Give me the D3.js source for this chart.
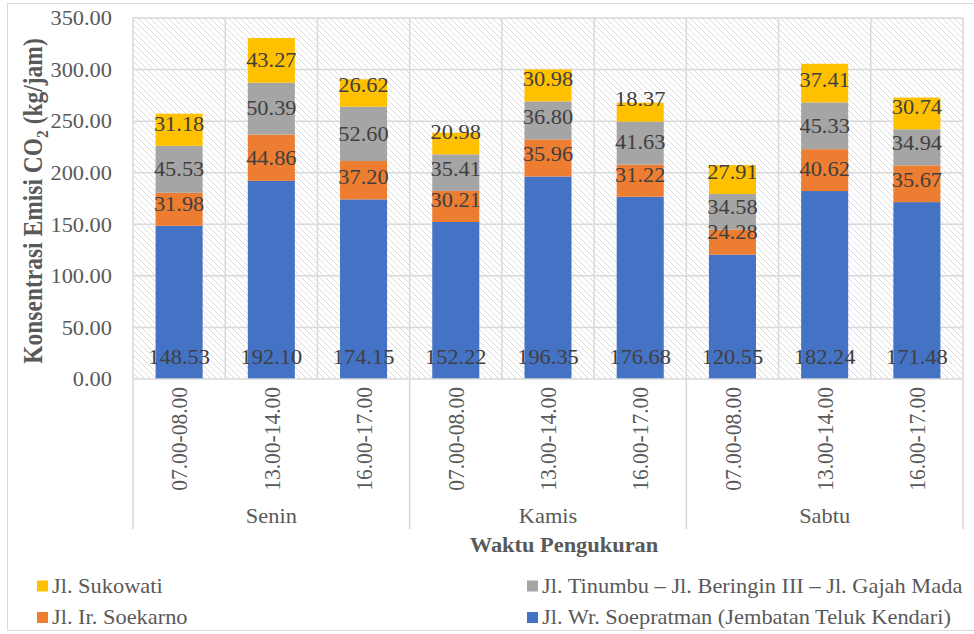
<!DOCTYPE html>
<html>
<head>
<meta charset="utf-8">
<script src="https://cdn.jsdelivr.net/npm/d3@7"></script>
<style>
  html, body { margin: 0; padding: 0; background: #fff; }
  svg { display: block; }
  svg text { font-family: "Liberation Serif", "Tinos", "Times New Roman", "DejaVu Serif", serif; }
</style>
</head>
<body>
<svg id="chart" width="974" height="634"></svg>
<script>
// Measurement days and time windows
const days = ["Senin", "Kamis", "Sabtu"];
const times = ["07.00-08.00", "13.00-14.00", "16.00-17.00"];

// CO2 emission per road segment (kg/jam), one value per day/time slot
const soepratman = [148.53, 192.10, 174.15, 152.22, 196.35, 176.68, 120.55, 182.24, 171.48];
const soekarno   = [31.98, 44.86, 37.20, 30.21, 35.96, 31.22, 24.28, 40.62, 35.67];
const tinumbu    = [45.53, 50.39, 52.60, 35.41, 36.80, 41.63, 34.58, 45.33, 34.94];
const sukowati   = [31.18, 43.27, 26.62, 20.98, 30.98, 18.37, 27.91, 37.41, 30.74];

const seriesNames = [
  "Jl. Wr. Soepratman (Jembatan Teluk Kendari)",
  "Jl. Ir. Soekarno",
  "Jl. Tinumbu – Jl. Beringin III – Jl. Gajah Mada",
  "Jl. Sukowati"
];
const seriesValues = [soepratman, soekarno, tinumbu, sukowati];
const seriesColors = ["#4472C4", "#ED7D31", "#A5A5A5", "#FFC000"];

const yTicks = [0, 50, 100, 150, 200, 250, 300, 350];

// Build category keys and stacking table
const cats = [];
days.forEach(d => times.forEach(t => cats.push(d + "|" + t)));
const table = cats.map((c, i) => {
  const row = { cat: c };
  seriesNames.forEach((s, k) => row[s] = seriesValues[k][i]);
  return row;
});
const stacked = d3.stack().keys(seriesNames)(table);

const svg = d3.select("#chart");
const plot = { left: 133, right: 963, top: 18, bottom: 379 };

const x = d3.scaleBand().domain(cats).range([plot.left, plot.right]).padding(0);
const y = d3.scaleLinear().domain([0, 350]).range([plot.bottom, plot.top]);
const barW = x.step() * 0.51;

const gridColor = "#d9d9d9";
const textGray = "#595959";
const SX = 1.12; // horizontal widening applied to all lettering

// Text placed at (px, py) and widened horizontally in screen space
function addText(parent, px, py, str, opts = {}) {
  const g = parent.append("g")
    .attr("transform", `translate(${px},${py}) scale(${SX},1)`);
  const t = g.append("text")
    .attr("font-size", opts.size || 20)
    .attr("fill", opts.fill || textGray)
    .attr("text-anchor", opts.anchor || "middle")
    .attr("dy", opts.dy || "0.34em");
  if (opts.weight) t.attr("font-weight", opts.weight);
  if (opts.rotate) t.attr("transform", `rotate(${opts.rotate})`);
  if (str !== null) t.text(str);
  return t;
}

// Outer chart frame
svg.append("rect")
  .attr("x", 7.5).attr("y", 3.5).attr("width", 980).attr("height", 627)
  .attr("fill", "#fff").attr("stroke", gridColor).attr("stroke-width", 1);

// Hatched plot background
const defs = svg.append("defs");
const pat = defs.append("pattern")
  .attr("id", "hatch").attr("patternUnits", "userSpaceOnUse")
  .attr("width", 6).attr("height", 6);
pat.append("path")
  .attr("d", "M0,0 L6,6 M-1,5 L1,7 M5,-1 L7,1")
  .attr("stroke", "#d6d6d6").attr("stroke-width", 0.9);
svg.append("rect")
  .attr("x", plot.left).attr("y", plot.top)
  .attr("width", plot.right - plot.left).attr("height", plot.bottom - plot.top)
  .attr("fill", "url(#hatch)");

// Horizontal gridlines
svg.append("g").selectAll("line").data(yTicks.slice(1)).join("line")
  .attr("x1", plot.left).attr("x2", plot.right)
  .attr("y1", d => y(d)).attr("y2", d => y(d))
  .attr("stroke", gridColor).attr("stroke-width", 1.5);

// Vertical gridlines at category boundaries
const bounds = cats.map(c => x(c)).concat([plot.right]);
svg.append("g").selectAll("line").data(bounds).join("line")
  .attr("x1", d => d).attr("x2", d => d)
  .attr("y1", plot.top).attr("y2", plot.bottom)
  .attr("stroke", gridColor).attr("stroke-width", 1.5);

// Stacked bars
const layers = svg.append("g").selectAll("g").data(stacked).join("g")
  .attr("fill", (d, i) => seriesColors[i]);
layers.selectAll("rect").data(d => d).join("rect")
  .attr("x", d => x(d.data.cat) + (x.step() - barW) / 2)
  .attr("width", barW)
  .attr("y", d => y(d[1]))
  .attr("height", d => y(d[0]) - y(d[1]));

// Category axis line
svg.append("line")
  .attr("x1", plot.left).attr("x2", plot.right)
  .attr("y1", plot.bottom).attr("y2", plot.bottom)
  .attr("stroke", gridColor).attr("stroke-width", 1.5);

// Data labels: base series sits at the bar base, the others near the segment middle
const labels = svg.append("g");
stacked.forEach((layer, k) => {
  layer.forEach((d, i) => {
    const bottom = y(d[0]);
    const mid = (y(d[0]) + y(d[1])) / 2;
    const cy = k === 0 ? bottom - 22 : Math.min(mid, bottom - 22);
    addText(labels, x(d.data.cat) + x.step() / 2, cy,
      d3.format(".2f")(seriesValues[k][i]), { fill: "#404040" });
  });
});

// Value axis
const yAxis = svg.append("g")
  .attr("transform", `translate(${plot.left},0)`)
  .call(d3.axisLeft(y).tickValues(yTicks).tickFormat(d3.format(".2f")).tickSize(0).tickPadding(21));
yAxis.attr("font-family", null).attr("font-size", null);
yAxis.select(".domain").remove();
yAxis.selectAll("text")
  .attr("font-size", 20).attr("fill", textGray)
  .attr("x", 0).attr("dy", "0.34em")
  .attr("transform", `translate(-21,0) scale(${SX},1)`);

// Time-window tick labels (rotated)
const xAxis = svg.append("g")
  .attr("transform", `translate(0,${plot.bottom})`)
  .call(d3.axisBottom(x).tickSize(0).tickFormat(c => c.split("|")[1]));
xAxis.attr("font-family", null).attr("font-size", null);
xAxis.select(".domain").remove();
xAxis.selectAll("text")
  .attr("font-size", 21.5).attr("fill", textGray)
  .attr("text-anchor", "end")
  .attr("transform", `scale(${SX},1) rotate(-90)`)
  .attr("x", -8).attr("y", 0).attr("dy", "0.34em");

// Day group separators and labels
const groupW = x.step() * times.length;
const groupEdges = d3.range(days.length + 1).map(i => plot.left + i * groupW);
svg.append("g").selectAll("line").data(groupEdges).join("line")
  .attr("x1", d => d).attr("x2", d => d)
  .attr("y1", plot.bottom).attr("y2", 529)
  .attr("stroke", gridColor).attr("stroke-width", 1.5);
const dayG = svg.append("g");
days.forEach((d, i) => addText(dayG, plot.left + (i + 0.5) * groupW, 516.5, d));

// Axis titles
addText(svg, 564, 545, "Waktu Pengukuran", { weight: "bold" });

const yTitle = addText(svg, 42, 201, null,
  { size: 23.5, weight: "bold", rotate: -90, dy: "0" });
yTitle.append("tspan").text("Konsentrasi Emisi CO");
yTitle.append("tspan").attr("font-size", 15.5).attr("dy", 5).text("2");
yTitle.append("tspan").attr("dy", -5).text(" (kg/jam)");

// Legend
const legendItems = [
  { k: 3, x: 37, y: 586 },
  { k: 2, x: 527, y: 586 },
  { k: 1, x: 37, y: 617.5 },
  { k: 0, x: 527, y: 617.5 }
];
const lg = svg.append("g");
legendItems.forEach(it => {
  lg.append("rect")
    .attr("x", it.x).attr("y", it.y - 5.5).attr("width", 11).attr("height", 11)
    .attr("fill", seriesColors[it.k]);
  addText(lg, it.x + 15, it.y, seriesNames[it.k], { anchor: "start" });
});
</script>
</body>
</html>
